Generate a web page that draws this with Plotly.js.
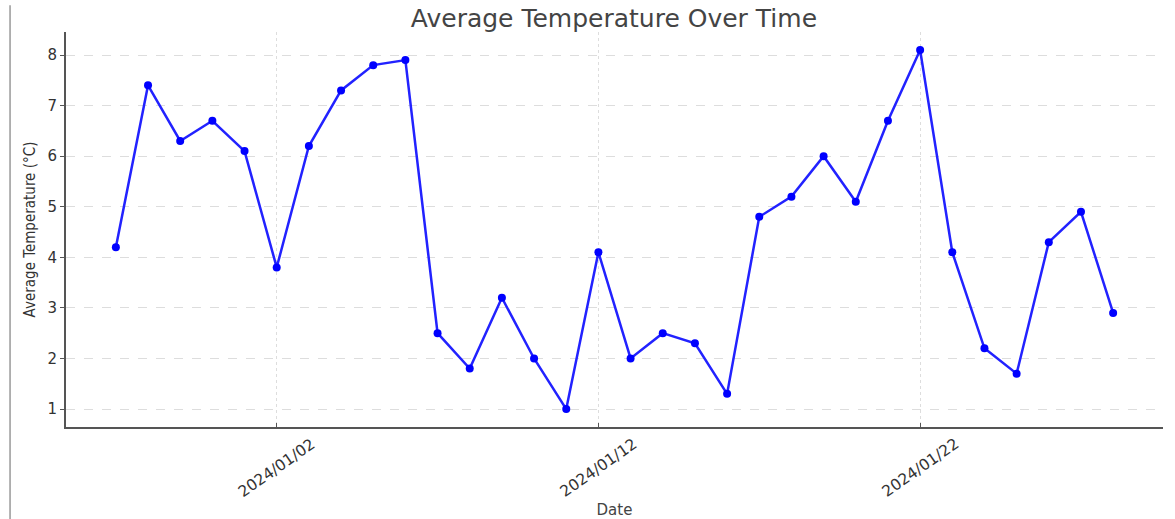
<!DOCTYPE html>
<html>
<head>
<meta charset="utf-8">
<script src="https://cdn.plot.ly/plotly-3.0.1.min.js"></script>
<style>html,body{margin:0;padding:0;background:#fff;}#chart{width:1175px;height:519px;}</style>
</head>
<body>
<div id="chart"></div>
<script>
const dates = ["2023-12-28","2023-12-29","2023-12-30","2023-12-31","2024-01-01","2024-01-02","2024-01-03","2024-01-04","2024-01-05","2024-01-06","2024-01-07","2024-01-08","2024-01-09","2024-01-10","2024-01-11","2024-01-12","2024-01-13","2024-01-14","2024-01-15","2024-01-16","2024-01-17","2024-01-18","2024-01-19","2024-01-20","2024-01-21","2024-01-22","2024-01-23","2024-01-24","2024-01-25","2024-01-26","2024-01-27","2024-01-28"];
const temps = [4.2,7.4,6.3,6.7,6.1,3.8,6.2,7.3,7.8,7.9,2.5,1.8,3.2,2.0,1.0,4.1,2.0,2.5,2.3,1.3,4.8,5.2,6.0,5.1,6.7,8.1,4.1,2.2,1.7,4.3,4.9,2.9];
const tickVals = ["2024-01-02","2024-01-12","2024-01-22"];
const tickText = ["2024/01/02","2024/01/12","2024/01/22"];
const yTicks = [1,2,3,4,5,6,7,8];

const trace = {
  x: dates, y: temps, type: "scatter", mode: "lines+markers",
  line: {color: "#2222ff", width: 2.5},
  marker: {color: "#0000ff", size: 8}
};
const tickAnnotations = tickVals.map((v, i) => ({
  x: v, xref: "x", y: -0.104, yref: "paper",
  text: tickText[i], showarrow: false, textangle: -35,
  xanchor: "center", yanchor: "middle",
  font: {family: "DejaVu Sans", size: 15.5, color: "#333"}
}));
const layout = {
  width: 1175, height: 519,
  margin: {l: 66, r: 12, t: 32, b: 92},
  paper_bgcolor: "#ffffff", plot_bgcolor: "#ffffff",
  showlegend: false,
  title: {text: "Average Temperature Over Time", x: 0.5225, xanchor: "center", y: 0.965, yanchor: "middle",
          font: {family: "DejaVu Sans", size: 25, color: "#444"}},
  xaxis: {
    type: "date", range: ["2023-12-26 10:48", "2024-01-29 13:12"],
    tickvals: tickVals, showticklabels: false,
    showgrid: true, gridcolor: "#dddddd", griddash: "dot", gridwidth: 1,
    showline: true, linecolor: "#555", linewidth: 2,
    ticks: "inside", ticklen: 4, tickcolor: "#555",
    zeroline: false,
    title: {text: "Date", font: {family: "DejaVu Sans", size: 15, color: "#444"}, standoff: 77}
  },
  yaxis: {
    range: [0.645, 8.455], tickvals: yTicks,
    tickfont: {family: "DejaVu Sans", size: 15, color: "#333"},
    showgrid: true, gridcolor: "#dddddd", griddash: "dash", gridwidth: 1,
    showline: true, linecolor: "#555", linewidth: 2,
    ticks: "outside", ticklen: 4, tickcolor: "#555",
    zeroline: false,
    title: {text: "Average Temperature (°C)", font: {family: "DejaVu Sans Condensed, DejaVu Sans", size: 15, color: "#333"}, standoff: 8}
  },
  annotations: tickAnnotations,
  shapes: [
    {type: "line", xref: "paper", yref: "paper", x0: -0.051, x1: -0.051, y0: -0.233, y1: 1.068,
     line: {color: "#999", width: 1.5}}
  ]
};
Plotly.newPlot("chart", [trace], layout, {displayModeBar: false, staticPlot: true});
</script>
</body>
</html>
